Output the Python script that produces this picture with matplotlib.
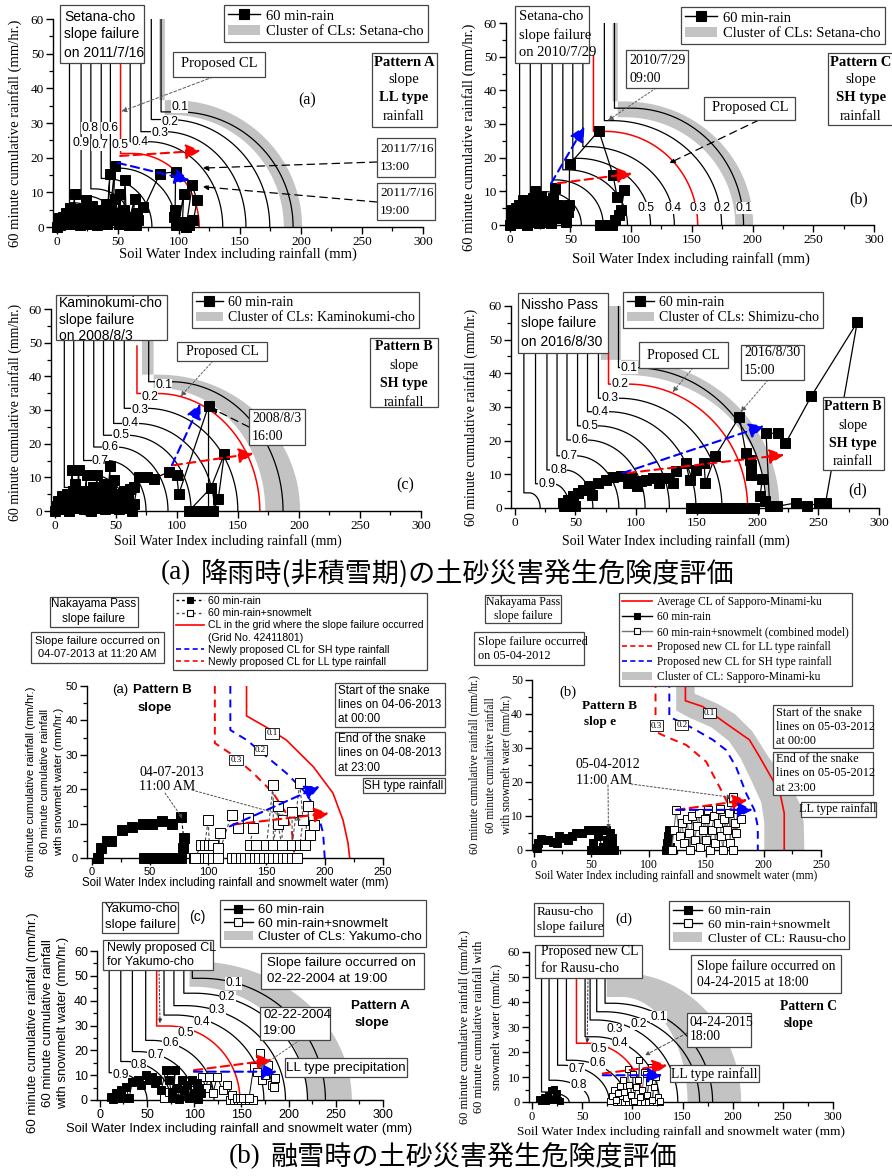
import numpy as np
import matplotlib
matplotlib.use('Agg')
import matplotlib.pyplot as plt
from matplotlib.lines import Line2D
from matplotlib.patches import Patch, Rectangle
from matplotlib.ticker import MultipleLocator

W, H = 892, 1176
SERIF = 'Liberation Serif'
SANS = 'Liberation Sans'
CJK = 'Noto Sans CJK JP'
BAND = '#c3c3c3'
BOXEC = '#454545'

# ============================ DATA ============================
# ---- Top (a): Setana-cho 2011/7/16 ----
TA_xv = [85.5, 77.5, 69.0, 60.2, 44.0, 36.5, 28.0, 20.0, 10.5]
TA_ytop = [60, 60, 60, 60, 60, 60, 60, 60, 60]
TA_yk = [33.2, 31.0, 27.5, 24.6, 17.0, 14.0, 11.0, 9.0, 7.0]
TA_xc = [100, 92, 88, 75, 50, 40, 31, 23, 13]
TA_xe = [193.6, 174.5, 155.0, 136.0, 98.0, 78.0, 62.0, 50.0, 38.0]
TA_lab = ['0.1', '0.2', '0.3', '0.4', '0.5', '0.6', '0.7', '0.8', '0.9']
TA_lx = [100.8, 92.6, 84.4, 68.0, 52.2, 43.4, 35.2, 27.0, 20.2]
TA_ly = [34.7, 30.4, 27.0, 24.6, 23.7, 28.5, 23.7, 28.5, 24.1]
TA_red = [52.3, 47.0, 21.2, 62.0, 116.7]          # xv, ytop, yknee, xc, xend
TA_band = [84, 88.6, 60, 36.6, 32.3, 95, 201, 186]  # xl, xr, ytop, yo, yi, xc, xeo, xei
TA_rain = [(0, 0), (1, 1), (2, 2.5), (3, 0.5), (4, 1.8), (5, 3), (6, 0.8), (7, 2), (8, 4), (9, 1),
           (10, 2.8), (11, 5.5), (12, 1.5), (13, 3.5), (15, 9.6), (14, 4.5), (16, 1), (17, 3),
           (18, 5.2), (19, 0.5), (20, 2.5), (22, 4), (24, 7.9), (23, 2), (25, 5), (26, 1), (28, 3),
           (29, 6), (30, 1.5), (32, 4), (33, 0.5), (34, 2.5), (36, 5), (37, 1), (38, 3), (40, 6.5),
           (41, 1), (43.6, 15.4), (42, 3), (44, 5), (47.7, 17.6), (46, 2), (48, 8), (50, 4),
           (52, 9.6), (51, 1), (55, 5), (56, 13.5), (57, 2), (59, 0.5), (60, 3), (64, 8.2), (62, 1),
           (66, 3.9), (71, 5.8), (67, 2), (65, 0.5), (84.5, 15.4), (97.4, 15.9), (97, 4.8),
           (96, 2.9), (98, 0.5), (100, 1), (104, 9.6), (103, 1.4), (106, 0), (111, 12),
           (115, 7.7), (112, 1.9), (108, 0.5), (106, 0)]
TA_arrow_red = [(52, 20.5), (118, 22)]
TA_arrow_blue = [(50, 18.5), (109, 13.5)]

# ---- Top (b): Setana-cho 2010/7/29 ----
TB_xv = [86.3, 78.0, 60.3, 52.0, 43.8, 35.0, 26.0, 17.0, 8.2]
TB_ytop = [60, 60, 60, 60, 60, 60, 60, 60, 60]
TB_yk = [34.7, 31.0, 23.3, 19.8, 16.4, 13.4, 9.9, 7.4, 4.5]
TB_xc = [100, 84, 64, 56, 47, 38, 29, 20, 10]
TB_xe = [192.6, 174.5, 135.6, 116.0, 97.0, 77.0, 59.0, 45.0, 30.0]
TB_lab = ['0.5', '0.4', '0.3', '0.2', '0.1']
TB_lx = [112.3, 134.2, 154.8, 174.8, 193.2]
TB_ly = [5, 5, 5, 5, 5]
TB_red = [69.0, 50.3, 27.8, 79.0, 154.8]
TB_band = [84.8, 89, 60, 36.7, 32, 95, 200.5, 185.7]
TB_rain = [(0, 0), (1, 2), (2, 4.5), (3, 1), (4, 3), (5, 5), (6, 0.5), (7, 2.5), (8, 6), (9, 1.5),
           (10, 4), (11, 7.5), (12, 2), (13, 5), (14, 0), (15, 3.5), (16, 6.5), (17, 1), (18, 4),
           (19, 8), (20.5, 10.2), (21, 5), (22, 2), (23, 7), (24, 0.5), (25, 4), (26, 8.5), (27, 3),
           (28, 6), (29, 1), (30, 4.5), (31, 7), (32, 2.5), (33, 5.5), (34, 0.5), (35, 3.5), (36, 8),
           (37, 10.9), (38, 5), (39, 2), (40, 6), (42, 3), (44, 5.5), (46, 1), (48, 4), (49, 6),
           (49.3, 18), (73.4, 28), (85, 15), (88.5, 8.4), (94.5, 10.5), (91.8, 4.5), (90.4, 3),
           (87, 1.5), (84, 0), (80, 0), (77, 0), (74, 0)]
TB_arrow_red = [(39.7, 12.4), (101, 15.3)]
TB_arrow_blue = [(34.2, 12.4), (61.6, 29.3)]

# ---- Top (c): Kaminokumi-cho 2008/8/3 ----
TC_xv = [77.0, 57.0, 48.3, 40.0, 32.0, 23.7, 15.6, 7.9]
TC_ytop = [60, 60, 60, 60, 60, 60, 60, 60]
TC_yk = [38.4, 30.5, 26.0, 22.5, 19.0, 15.0, 11.0, 7.0]
TC_xc = [95, 75, 67, 59, 50, 42, 27, 16]
TC_xe = [187.0, 150.0, 130.8, 111.7, 92.8, 74.8, 59.0, 42.0]
TC_lab = ['0.1', '0.2', '0.3', '0.4', '0.5', '0.6', '0.7']
TC_lx = [89.3, 77.8, 69.6, 62.0, 54.3, 45.6, 37.4]
TC_ly = [37.4, 33.8, 30.0, 26.2, 22.5, 19.0, 15.0]
TC_red = [67.4, 49.0, 34.9, 84.0, 168.0]
TC_band = [71.5, 81, 60, 40.5, 36.5, 85, 201, 172.5]
TC_rain = [(0, 0), (1, 1.5), (2, 0.5), (3, 3), (4, 1), (5, 2), (6, 4.5), (7, 0.5), (8, 3), (9, 1.5),
           (10, 5), (11, 2.5), (12, 0), (13, 3.5), (14.2, 12.1), (15, 6), (16, 1), (17, 8), (18, 3),
           (19.7, 12.1), (20, 5), (21, 1), (23, 4), (24, 0.5), (26.5, 10.8), (25, 6), (27, 2),
           (29, 4), (30, 0), (31, 7), (33, 3), (34.7, 10.6), (35, 1), (37, 5), (38, 2), (40, 8),
           (41, 0.5), (43, 4), (45.6, 13.5), (44, 2), (46, 6), (48.3, 9.1), (47, 1), (50, 3),
           (52, 5), (53, 0.5), (55, 2), (57, 6), (58, 1), (60, 3.5), (62, 6.5), (64.7, 7.1),
           (63, 0), (65, 2), (68.8, 10.1), (75.6, 10.1), (81, 9.6), (93.4, 11.6), (100, 10.6),
           (101.6, 5), (126, 31.2), (126, 0), (122, 0), (118, 0), (114, 0), (110, 0), (128, 6.9),
           (139, 17), (134, 3.7), (130, 0)]
TC_arrow_red = [(97.5, 13.6), (163, 17.1)]
TC_arrow_blue = [(96, 13.6), (119.3, 31.9)]

# ---- Top (d): Nissho Pass 2016/8/30 ----
TD_xv = [85.5, 69.0, 60.0, 51.8, 43.1, 34.9, 26.6, 17.2, 7.6]
TD_ytop = [60, 60, 60, 60, 60, 60, 60, 60, 60]
TD_yk = [41.7, 32.6, 28.6, 24.4, 20.2, 15.5, 11.3, 7.2, 4.5]
TD_xc = [98, 86, 77, 68, 59, 50, 41, 31, 12]
TD_xe = [207.0, 170.7, 149.3, 127.4, 107.4, 85.8, 64.4, 45.0, 21.0]
TD_lab = ['0.1', '0.2', '0.3', '0.4', '0.5', '0.6', '0.7', '0.8', '0.9']
TD_lx = [94.0, 86.9, 78.7, 70.5, 61.7, 53.5, 44.5, 36.2, 26.6]
TD_ly = [41.7, 36.8, 32.6, 28.6, 24.4, 20.2, 15.5, 11.3, 7.2]
TD_red = [77.3, 46.0, 36.8, 93.0, 191.8]
TD_band = [71, 87.5, 60, 44, 39.5, 92, 218, 208]
TD_rain = [(41, 0.5), (40, 1.5), (43.8, 2.5), (45, 0.5), (48, 3.5), (47, 1), (52, 4.4), (50, 0.5),
           (56, 5.4), (61.6, 6.4), (64, 4), (68.5, 7.4), (75, 8.4), (80.8, 9.2), (87.7, 9.4),
           (93, 7.4), (96, 9), (101, 6.4), (104, 8), (108, 8.4), (113.7, 8.9), (119, 7.4),
           (122, 9), (126, 8.9), (130, 7.4), (133, 10.9), (141, 13.3), (144, 8.4), (149, 11.4),
           (156, 13.3), (157, 7.4), (165, 15.3), (185, 27.1), (190.4, 16.3), (193.7, 14.3),
           (195, 12.8), (195, 9.9), (204, 8.6), (202, 3.5), (206, 2), (210, 0.5), (207, 22.2),
           (217, 22.2), (223, 19.2), (244.4, 33.3), (282, 55.1), (256, 1.5), (250.7, 1.5),
           (241, 0.5), (231.5, 1.5), (216, 0.5)]
TD_rain0 = [(145, 0), (149, 0), (153, 0), (157, 0), (161, 0), (165, 0), (169, 0), (173, 0),
            (177, 0), (181, 0), (185, 0), (189, 0), (193, 0), (197, 0)]
TD_arrow_red = [(93, 10.4), (222, 15.8)]
TD_arrow_blue = [(89, 10.4), (205.5, 24.4)]

# ---- Bottom (a): Nakayama Pass 2013 ----
BA_red = [(132.9, 50), (132.9, 41.3), (150, 38), (167, 34.3), (190, 26.6), (207, 18.9),
          (215.7, 11), (220, 4.3), (221.4, 0)]
BA_blue = [(119, 50), (119, 37.2), (133, 34.3), (150, 29.5), (167, 24.7), (184, 18.9),
           (194, 13), (198.6, 7.3), (200, 0)]
BA_reddash = [(105.7, 50), (105.7, 33.4), (118.6, 30.5), (138.6, 24.7), (155.7, 18.9),
              (167, 13), (172, 7.3), (174.3, 0)]
BA_lab = ['0.1', '0.2', '0.3']
BA_lx = [154.9, 144.6, 123.7]
BA_ly = [36.2, 31.4, 28.5]
BA_rain = [(5.7, 0), (8, 2.9), (12.9, 4.8), (17, 4.8), (25.7, 8), (34.3, 9), (44.3, 10), (52, 10),
           (60.6, 10.9), (68.6, 10), (77, 11.9), (79, 5.8), (78, 2.9), (77, 0), (73, 0), (69, 0),
           (65, 0), (61, 0), (57, 0), (53, 0), (49, 0), (45, 0)]
BA_snow = [(88.6, 0), (94, 3.7), (97, 3.7), (100, 11), (101, 3.7), (104, 3.7), (108.6, 2.9),
           (110, 7.2), (108, 0), (120, 12.6), (125.7, 8.7), (134, 11.6), (138.6, 8.7),
           (135.7, 3.7), (141, 3.7), (150, 3.7), (155.7, 21.3), (156, 3.7), (160, 15), (160, 10),
           (163, 3.7), (164, 11), (172, 13.5), (172, 3.7), (178.6, 21.8), (181.4, 11),
           (178.6, 3.7), (182.9, 3.7), (185.7, 15), (187, 6.8), (191, 9.7)]
BA_snow0 = [(88, 0), (92, 0), (96, 0), (100, 0), (104, 0), (108, 0), (120, 0), (124, 0), (128, 0),
            (132, 0), (136, 0), (140, 0), (144, 0), (148, 0), (152, 0), (156, 0), (160, 0),
            (164, 0), (168, 0), (172, 0), (176, 0)]
BA_arrow_red = [(121, 9.7), (203.7, 13)]
BA_arrow_blue = [(118.6, 9.2), (195.7, 20.8)]

# ---- Bottom (b): Nakayama Pass 2012 ----
BB_red = [(132, 50), (132, 43.9), (147, 42.2), (167, 37.3), (187.7, 32.4), (196.4, 27.5),
          (208, 20.6), (215, 15.7), (218, 10.8), (218, 0)]
BB_blue = [(118, 50), (118, 39.2), (138.5, 35.8), (155.9, 32.4), (167.4, 29.4), (176, 24.5),
           (184.8, 16.7), (192, 11.8), (195, 6.9), (195, 0)]
BB_reddash = [(106, 50), (106, 34.8), (115.3, 33.3), (132.7, 30.9), (150, 26), (161.6, 18.6),
              (167.4, 14.7), (173.2, 10.8), (174.7, 0)]
BB_band_in = [(124, 50), (124, 41), (135, 39), (155, 36), (170, 32), (180, 27), (190, 20),
              (198, 14), (200.7, 8), (200.7, 0)]
BB_band_out = [(140, 50), (140, 46), (160, 43), (175, 40), (190, 35), (205, 27), (222, 20),
               (231, 14), (235, 8), (235.5, 0)]
BB_lab = ['0.1', '0.2', '0.3']
BB_lx = [153, 128.9, 106.6]
BB_ly = [40.4, 36.8, 36.6]
BB_rain = [(2.5, 0.5), (4, 2), (6, 3.1), (9, 3), (12, 3), (16.8, 2.5), (20, 2), (22, 4), (26, 3.5),
           (30, 3), (33, 4), (37, 5), (42, 5), (47, 6), (52, 6), (58, 6), (63, 6), (66, 5), (64, 3),
           (62, 1), (58, 0), (54, 0), (50, 0), (52, 2), (56, 4), (60, 1), (65, 0), (68, 2), (70, 0),
           (68, 3.5)]
BB_rain2 = [(115.3, 0), (116, 2), (117, 4), (118, 6), (116.5, 3), (119, 1)]
BB_snow = [(120, 0), (122, 5.9), (124, 11.8), (127, 4), (129, 8), (131, 2), (133, 9), (135, 5),
           (136, 0), (138, 10), (140, 3), (142, 7), (144, 11), (145, 1), (147, 6), (149, 9),
           (150, 3), (152, 11.8), (153, 0), (155, 6), (157, 10), (158, 2), (160, 8), (162, 12),
           (163, 4), (165, 0), (166, 9), (168, 6), (170, 11), (171, 2), (172, 14), (173, 15.5),
           (175, 8), (173, 0), (178, 12), (176, 5), (180, 9)]
BB_arrow_red = [(124, 11.8), (186, 14.7)]
BB_arrow_blue = [(124, 11.8), (190.6, 11.8)]

# ---- Bottom (c): Yakumo-cho 2004 ----
BC_xv = [98.0, 89.0, 78.5, 68.0, 48.6, 34.5, 22.2, 9.9]
BC_ytop = [60, 60, 60, 60, 60, 60, 60, 60]
BC_yk = [49.0, 43.0, 38.0, 34.2, 24.0, 19.5, 15.5, 11.0]
BC_xc = [108, 100, 90, 80, 55, 40, 28, 15]
BC_xe = [239.0, 220.0, 196.7, 173.8, 121.0, 99.7, 75.0, 50.0]
BC_lab = ['0.1', '0.2', '0.3', '0.4', '0.5', '0.6', '0.7', '0.8', '0.9']
BC_lx = [141.9, 134.9, 124.3, 108.5, 90.8, 75.0, 59.2, 41.5, 22.2]
BC_ly = [47.0, 41.4, 36.2, 31.5, 26.9, 22.8, 18.1, 14.1, 10.1]
BC_red = [60.2, 52.3, 29.8, 72.0, 148.4]
BC_band = [89, 95, 60, 55.8, 45.6, 100, 267, 219.6]
BC_rain = [(11.6, 1.3), (14, 0.5), (17, 2.7), (20, 1), (22, 4), (25.7, 0.7), (27.5, 5.4),
           (31, 0.7), (34.5, 7.4), (40, 8), (44, 6), (48.6, 10), (52, 8), (55.7, 9.4), (58, 7),
           (61, 8), (65, 4), (70, 12), (73, 8), (76, 3), (80, 12), (78, 1), (82, 5), (84, 0.5),
           (87.4, 8), (89, 4), (92.7, 6), (94, 1), (98, 8), (100, 3), (103, 6.7), (104, 0.5),
           (106.8, 2.7), (105, 5)]
BC_snow = [(68, 0.7), (73.3, 3.4), (76, 1), (85, 2), (95, 4), (100, 2), (108.6, 9.4), (112, 5),
           (115.6, 9.4), (120, 3), (124.4, 9.4), (130, 4), (135, 6), (140, 2), (145, 0.7),
           (149, 0.7), (152, 0.7), (158, 0.7), (163, 13.4), (166.7, 11.4), (170, 18.8), (172, 8),
           (175.5, 10), (178, 14), (182.6, 6), (184.5, 5.4), (186, 9)]
BC_snow0 = [(138, 0), (142, 0), (146, 0), (150, 0), (154, 0), (158, 0), (162, 0)]
BC_arrow_red = [(99.7, 12), (182.6, 16.1)]
BC_arrow_blue = [(99.7, 11.4), (188, 11.4)]

# ---- Bottom (d): Rausu-cho 2015 ----
BD_xv = [72.8, 64.5, 57.9, 52.9, 34.3, 25.5, 17.0, 9.5]
BD_ytop = [60, 60, 60, 60, 60, 60, 60, 60]
BD_yk = [39.5, 36.1, 32.8, 26.1, 16.7, 14.7, 8.7, 4.0]
BD_xc = [80, 72, 64, 62, 40, 30, 22, 13]
BD_xe = [180.0, 167.0, 145.3, 127.0, 94.0, 77.0, 57.0, 37.0]
BD_lab = ['0.1', '0.2', '0.3', '0.4', '0.5', '0.6', '0.7', '0.8']
BD_lx = [126.0, 106.0, 82.8, 87.8, 66.8, 65.5, 44.6, 46.2]
BD_ly = [33.9, 31.2, 29.1, 23.5, 21.0, 15.4, 13.4, 6.7]
BD_red = [44.3, 49.6, 23.5, 55.0, 110.4]
BD_band = [74.5, 74.5, 39.5, 51.6, 42, 89.5, 208.5, 155]
BD_rain = [(7.3, 1.3), (9, 0.5), (12.3, 2), (14, 0.5), (16, 3), (19, 4.7), (20, 1), (22.3, 5.4),
           (24, 2.5), (26, 1), (28, 0.5), (25, 3.5)]
BD_snow = [(78, 0.5), (80, 2.5), (82, 5), (84, 1), (86, 3.5), (88, 6.5), (90.5, 8.7), (92, 4),
           (94, 1.5), (95.4, 13.4), (97, 7), (99, 3), (100.4, 11.4), (102, 0.5), (104, 6), (106, 9),
           (107, 16.7), (108, 2), (110, 5), (112, 12), (113.7, 11.4), (115, 3), (117, 8), (119, 14),
           (120, 1), (122, 6), (124, 10), (126, 2), (128, 0.5)]
BD_snow0 = [(84, 0), (88, 0), (92, 0), (96, 0), (100, 0), (104, 0), (108, 0), (112, 0), (116, 0),
            (120, 0), (124, 0), (128, 0)]
BD_arrow_red = [(70.5, 11.4), (135, 14.7)]
BD_arrow_blue = [(70.5, 10.7), (130, 10.7)]

# ============================ HELPERS ============================
fig = plt.figure(figsize=(W / 100, H / 100), dpi=100)


def F(x, y):
    return (x / W, 1 - y / H)


def make_ax(x0, x1, yt, yb, xmax, ymax, xstep, ystep, fam, fs, xmin=-3):
    ax = fig.add_axes([x0 / W, 1 - yb / H, (x1 - x0) / W, (yb - yt) / H])
    ax.set_xlim(xmin, xmax)
    ax.set_ylim(0, ymax)
    ax.patch.set_visible(False)
    for s in ('top', 'right'):
        ax.spines[s].set_visible(False)
    for s in ('left', 'bottom'):
        ax.spines[s].set_linewidth(1.0)
    ax.xaxis.set_major_locator(MultipleLocator(xstep))
    ax.xaxis.set_minor_locator(MultipleLocator(xstep / 2))
    ax.yaxis.set_major_locator(MultipleLocator(ystep))
    ax.yaxis.set_minor_locator(MultipleLocator(ystep / 2))
    ax.tick_params(which='major', direction='out', length=5, width=1, labelsize=fs, pad=1.5,
                   labelfontfamily=fam)
    ax.tick_params(which='minor', direction='out', length=3, width=0.9)
    return ax


def plot_cls(ax, xv, ytop, yk, xc, xe, color='k', lw=0.9, z=2):
    t = np.linspace(0.0, np.pi / 2, 90)
    for a, b, c, d, e in zip(xv, ytop, yk, xc, xe):
        xs = np.r_[a, a, d + (e - d) * np.sin(t)]
        ys = np.r_[b, c, c * np.cos(t)]
        ax.plot(xs, ys, color=color, lw=lw, zorder=z)


def plot_red(ax, r):
    plot_cls(ax, [r[0]], [r[1]], [r[2]], [r[3]], [r[4]], color='red', lw=1.1, z=2.5)


def plot_band(ax, b):
    xl, xr, ytop, yo, yi, xc, xeo, xei = b
    t = np.linspace(0.0, np.pi / 2, 90)
    ox = xc + (xeo - xc) * np.sin(t)
    oy = yo * np.cos(t)
    ix = (xc + (xei - xc) * np.sin(t))[::-1]
    iy = (yi * np.cos(t))[::-1]
    xs = np.r_[xl, xl, ox, ix, xr, xr]
    ys = np.r_[ytop, yo, oy, iy, yi, ytop]
    ax.fill(xs, ys, color=BAND, lw=0, zorder=1)


def cl_labels(ax, labs, lx, ly, fs=8.7, fam=SANS, boxed=False):
    for s, x, y in zip(labs, lx, ly):
        if boxed:
            bb = dict(boxstyle='square,pad=0.12', fc='white', ec='k', lw=0.6)
        else:
            bb = dict(boxstyle='square,pad=0.02', fc='white', ec='none')
        ax.text(x, y, s, ha='center', va='center', fontsize=fs, family=fam, zorder=3, bbox=bb)


def snake(ax, pts, filled=True, ls='-', lcolor='k', ms=7, lw=0.9, z=4):
    xs = [p[0] for p in pts]
    ys = [p[1] for p in pts]
    ax.plot(xs, ys, ls=ls, color=lcolor, lw=lw, marker='s', ms=ms,
            mfc='k' if filled else 'white', mec='k', mew=0.7, zorder=z, clip_on=False)


def polyline(ax, pts, color, ls='-', lw=1.2, z=2):
    ax.plot([p[0] for p in pts], [p[1] for p in pts], color=color, ls=ls, lw=lw, zorder=z)


def dash_arrow(ax, pts, color, ms=15, lw=1.5):
    ax.annotate('', xy=pts[1], xytext=pts[0],
                arrowprops=dict(arrowstyle='-|>,head_length=0.6,head_width=0.3', color=color,
                                lw=lw, ls=(0, (4, 2.5)), shrinkA=0, shrinkB=0,
                                mutation_scale=ms), zorder=5)


def leader(ax, px, py, xy, ls=(0, (4, 3)), lw=0.8, color='k', head=True, ms=8):
    ax.annotate('', xy=xy, xycoords='data', xytext=F(px, py), textcoords='figure fraction',
                arrowprops=dict(arrowstyle='-|>' if head else '-', color=color, lw=lw, ls=ls,
                                shrinkA=0, shrinkB=0, mutation_scale=ms), zorder=6)


def fbox(x0, y0, x1, y1, lw=0.9):
    fig.add_artist(Rectangle(F(x0, y1), (x1 - x0) / W, (y1 - y0) / H, transform=fig.transFigure,
                             fc='white', ec=BOXEC, lw=lw, zorder=7))


def ftext(x, y, s, fs, fam, ha='center', va='center', weight='normal', rot=0):
    fig.text(x / W, 1 - y / H, s, fontsize=fs, family=fam, ha=ha, va=va, weight=weight,
             rotation=rot, zorder=8)


def flegend(handles, labels, x0, y0, fs, fam, hl=2.2, ls=0.15):
    leg = fig.legend(handles, labels, loc='upper left', bbox_to_anchor=F(x0, y0),
                     bbox_transform=fig.transFigure, frameon=True, fancybox=False,
                     edgecolor=BOXEC, framealpha=1, prop={'family': fam, 'size': fs},
                     handlelength=hl, handletextpad=0.4, borderpad=0.3, labelspacing=ls,
                     borderaxespad=0)
    leg.get_frame().set_linewidth(0.9)
    leg.set_zorder(7)
    return leg


def rain_handle(ms=7, filled=True, ls='-', color='k'):
    return Line2D([0], [0], color=color, lw=1, ls=ls, marker='s', ms=ms,
                  mfc='k' if filled else 'white', mec='k', mew=0.8)


def gray_handle():
    return Patch(fc=BAND, ec='none')


# ============================ TOP (a) ============================
ax = make_ax(53, 423, 19, 227, 300, 60, 50, 10, SERIF, 9.5)
plot_band(ax, TA_band)
plot_cls(ax, TA_xv, TA_ytop, TA_yk, TA_xc, TA_xe)
plot_red(ax, TA_red)
cl_labels(ax, TA_lab, TA_lx, TA_ly)
snake(ax, TA_rain)
dash_arrow(ax, TA_arrow_red, 'red')
dash_arrow(ax, TA_arrow_blue, 'blue')
leader(ax, 213, 77, (53, 33.3), ls=(0, (3, 2)), color='0.35', lw=0.7)
leader(ax, 377, 162, (119.7, 17), ls=(0, (6, 4)), lw=0.9)
leader(ax, 377, 202, (119.7, 11.6), ls=(0, (6, 4)), lw=0.9)
fbox(60, 5, 144, 63)
ftext(64, 17, 'Setana-cho', 10, SANS, ha='left')
ftext(64, 34, 'slope failure', 10, SANS, ha='left')
ftext(64, 53, 'on 2011/7/16', 10, SANS, ha='left')
fbox(173, 52, 265, 77)
ftext(219, 64, 'Proposed CL', 10.5, SERIF)
ftext(307, 100, '(a)', 11.5, SERIF)
fbox(372, 53, 437, 127)
ftext(404, 62, 'Pattern A', 10.5, SERIF, weight='bold')
ftext(404, 80, 'slope', 10.5, SERIF)
ftext(404, 98, 'LL type', 10.5, SERIF, weight='bold')
ftext(404, 116, 'rainfall', 10.5, SERIF)
fbox(377, 138, 435, 177)
ftext(380, 149, '2011/7/16', 9.5, SERIF, ha='left')
ftext(380, 167, '13:00', 9.5, SERIF, ha='left')
fbox(377, 183, 435, 220)
ftext(380, 193, '2011/7/16', 9.5, SERIF, ha='left')
ftext(380, 211, '19:00', 9.5, SERIF, ha='left')
flegend([rain_handle(), gray_handle()], ['60 min-rain', 'Cluster of CLs: Setana-cho'],
        224, 5, 10.5, SERIF)
ftext(238, 254, 'Soil Water Index including rainfall (mm)', 10.5, SERIF)
ftext(15, 133, '60 minute cumulative rainfall (mm/hr.)', 10.5, SERIF, rot=90)

# ============================ TOP (b) ============================
ax = make_ax(506, 874, 23, 225, 300, 60, 50, 10, SERIF, 9.5)
plot_band(ax, TB_band)
plot_cls(ax, TB_xv, TB_ytop, TB_yk, TB_xc, TB_xe)
plot_red(ax, TB_red)
cl_labels(ax, TB_lab, TB_lx, TB_ly)
snake(ax, TB_rain)
dash_arrow(ax, TB_arrow_red, 'red')
dash_arrow(ax, TB_arrow_blue, 'blue')
leader(ax, 656, 88, (80.8, 31), ls=(0, (2, 2)), color='0.35', lw=0.7)
leader(ax, 759, 120, (131.5, 18.4), ls=(0, (6, 4)), lw=0.9)
fbox(515, 6, 589, 63)
ftext(519, 17, 'Setana-cho', 10.5, SERIF, ha='left')
ftext(519, 35, 'slope failure', 10.5, SERIF, ha='left')
ftext(519, 53, 'on 2010/7/29', 10.5, SERIF, ha='left')
fbox(626, 50, 688, 88)
ftext(629, 60, '2010/7/29', 10, SERIF, ha='left')
ftext(629, 78, '09:00', 10, SERIF, ha='left')
fbox(704, 97, 795, 120)
ftext(750, 108, 'Proposed CL', 10.5, SERIF)
fbox(828, 53, 893, 125)
ftext(861, 62, 'Pattern C', 10.5, SERIF, weight='bold')
ftext(861, 80, 'slope', 10.5, SERIF)
ftext(861, 98, 'SH type', 10.5, SERIF, weight='bold')
ftext(861, 116, 'rainfall', 10.5, SERIF)
ftext(859, 199, '(b)', 11.5, SERIF)
flegend([rain_handle(), gray_handle()], ['60 min-rain', 'Cluster of CLs: Setana-cho'],
        681, 7, 10.5, SERIF)
ftext(691, 259, 'Soil Water Index including rainfall (mm)', 10.5, SERIF)
ftext(469, 137, '60 minute cumulative rainfall (mm/hr.)', 10.5, SERIF, rot=90)

# ============================ TOP (c) ============================
ax = make_ax(51, 421, 309, 511, 300, 60, 50, 10, SERIF, 9.5)
plot_band(ax, TC_band)
plot_cls(ax, TC_xv, TC_ytop, TC_yk, TC_xc, TC_xe)
plot_red(ax, TC_red)
cl_labels(ax, TC_lab, TC_lx, TC_ly)
snake(ax, TC_rain)
dash_arrow(ax, TC_arrow_red, 'red')
dash_arrow(ax, TC_arrow_blue, 'blue')
leader(ax, 213, 361, (103, 34), ls=(0, (2, 2)), color='0.35', lw=0.7)
leader(ax, 249, 427, (128.5, 30.5), ls=(0, (6, 4)), lw=0.9)
fbox(56, 295, 167, 340)
ftext(59, 303, 'Kaminokumi-cho', 10, SANS, ha='left')
ftext(59, 320, 'slope failure', 10, SANS, ha='left')
ftext(59, 336, 'on 2008/8/3', 10, SANS, ha='left')
fbox(177, 342, 267, 361)
ftext(222, 351, 'Proposed CL', 10, SERIF)
fbox(249, 409, 305, 445)
ftext(252, 418, '2008/8/3', 10, SERIF, ha='left')
ftext(252, 437, '16:00', 10, SERIF, ha='left')
fbox(370, 338, 438, 407)
ftext(404, 347, 'Pattern B', 10, SERIF, weight='bold')
ftext(404, 365, 'slope', 10, SERIF)
ftext(404, 384, 'SH type', 10, SERIF, weight='bold')
ftext(404, 402, 'rainfall', 10, SERIF)
ftext(405, 485, '(c)', 11.5, SERIF)
flegend([rain_handle(), gray_handle()], ['60 min-rain', 'Cluster of CLs: Kaminokumi-cho'],
        192, 292, 10, SERIF, hl=1.9)
ftext(228, 541, 'Soil Water Index including rainfall (mm)', 10, SERIF)
ftext(15, 412, '60 minute cumulative rainfall (mm/hr.)', 10, SERIF, rot=90)

# ============================ TOP (d) ============================
ax = make_ax(511, 879, 306, 508, 300, 60, 50, 10, SERIF, 9.5)
plot_band(ax, TD_band)
plot_cls(ax, TD_xv, TD_ytop, TD_yk, TD_xc, TD_xe)
plot_red(ax, TD_red)
cl_labels(ax, TD_lab, TD_lx, TD_ly)
snake(ax, TD_rain)
snake(ax, TD_rain0)
dash_arrow(ax, TD_arrow_red, 'red')
dash_arrow(ax, TD_arrow_blue, 'blue')
leader(ax, 693, 368, (130, 34.4), ls=(0, (2, 2)), color='0.35', lw=0.7)
leader(ax, 768, 380, (186, 28.5), ls=(0, (2, 2)), color='0.35', lw=0.7)
fbox(518, 293, 608, 353)
ftext(521, 305, 'Nissho Pass', 10, SANS, ha='left')
ftext(521, 323, 'slope failure', 10, SANS, ha='left')
ftext(521, 342, 'on 2016/8/30', 10, SANS, ha='left')
fbox(639, 342, 728, 368)
ftext(683, 355, 'Proposed CL', 10, SERIF)
fbox(741, 345, 804, 380)
ftext(744, 353, '2016/8/30', 10, SERIF, ha='left')
ftext(744, 370, '15:00', 10, SERIF, ha='left')
fbox(823, 397, 884, 470)
ftext(853, 407, 'Pattern B', 10, SERIF, weight='bold')
ftext(853, 426, 'slope', 10, SERIF)
ftext(853, 444, 'SH type', 10, SERIF, weight='bold')
ftext(853, 462, 'rainfall', 10, SERIF)
ftext(858, 490, '(d)', 11.5, SERIF)
flegend([rain_handle(), gray_handle()], ['60 min-rain', 'Cluster of CLs: Shimizu-cho'],
        623, 292, 10, SERIF, hl=1.9)
ftext(676, 541, 'Soil Water Index including rainfall (mm)', 10, SERIF)
ftext(471, 417, '60 minute cumulative rainfall (mm/hr.)', 10, SERIF, rot=90)

# caption (a)
ftext(176, 573, '(a)', 19.5, SERIF)
ftext(201, 573, '降雨時(非積雪期)の土砂災害発生危険度評価', 19.5, CJK, ha='left')

# ============================ BOTTOM (a) ============================
ax = make_ax(87, 383, 686, 858, 250, 50, 50, 10, SANS, 8, xmin=-4)
polyline(ax, BA_red, 'red', lw=1.2)
polyline(ax, BA_blue, 'blue', ls=(0, (4, 3)), lw=1.4)
polyline(ax, BA_reddash, 'red', ls=(0, (4, 3)), lw=1.4)
cl_labels(ax, BA_lab, BA_lx, BA_ly, fs=6.5, fam=SERIF, boxed=True)
snake(ax, BA_rain, ls=(0, (3, 2)), ms=6.5, lw=0.8)
snake(ax, BA_snow0, filled=False, ls=(0, (3, 2)), lcolor='0.3', ms=6.5, lw=0.8)
snake(ax, BA_snow, filled=False, ls=(0, (3, 2)), lcolor='0.3', ms=6.5, lw=0.8)
dash_arrow(ax, BA_arrow_red, 'red')
dash_arrow(ax, BA_arrow_blue, 'blue')
leader(ax, 165, 793, (78, 11.5), ls=(0, (2, 2)), color='0.3', lw=0.7, ms=6)
leader(ax, 192, 790, (180, 11.0), ls=(0, (2, 2)), color='0.3', lw=0.7, ms=6)
ftext(139, 772, '04-07-2013', 10, SERIF, ha='left')
ftext(139, 787, '11:00 AM', 10, SERIF, ha='left')
ftext(112, 690, '(a)', 9.5, SANS, ha='left')
ftext(133, 690, 'Pattern B', 9.5, SANS, ha='left', weight='bold')
ftext(155, 708, 'slope', 9.5, SANS, weight='bold')
fbox(50, 597, 138, 627)
ftext(94, 604, 'Nakayama Pass', 8.4, SANS)
ftext(94, 619, 'slope failure', 8.4, SANS)
fbox(31, 632, 164, 663)
ftext(97, 641, 'Slope failure occurred on', 8, SANS)
ftext(97, 654, '04-07-2013 at 11:20 AM', 8, SANS)
flegend([rain_handle(5, True, (0, (2, 2))), rain_handle(5, False, (0, (2, 2)), '0.3'),
         Line2D([0], [0], color='red', lw=1.2), Line2D([0], [0], color='none'),
         Line2D([0], [0], color='blue', lw=1.2, ls=(0, (3, 2))),
         Line2D([0], [0], color='red', lw=1.2, ls=(0, (3, 2)))],
        ['60 min-rain', '60 min-rain+snowmelt', 'CL in the grid where the slope failure occurred',
         '(Grid No. 42411801)', 'Newly proposed CL for SH type rainfall',
         'Newly proposed CL for LL type rainfall'],
        173, 593, 7.6, SANS, hl=2.6, ls=0.2)
fbox(335, 683, 445, 727)
ftext(338, 691, 'Start of the snake', 8.4, SANS, ha='left')
ftext(338, 705, 'lines on 04-06-2013', 8.4, SANS, ha='left')
ftext(338, 719, 'at 00:00', 8.4, SANS, ha='left')
fbox(335, 732, 445, 775)
ftext(338, 739, 'End of the snake', 8.4, SANS, ha='left')
ftext(338, 753, 'lines on 04-08-2013', 8.4, SANS, ha='left')
ftext(338, 768, 'at 23:00', 8.4, SANS, ha='left')
fbox(363, 778, 445, 793)
ftext(404, 786, 'SH type rainfall', 8.4, SANS)
ftext(235, 883, 'Soil Water Index including rainfall and snowmelt water (mm)', 8.3, SANS)
ftext(31, 782, '60 minute cumulative rainfall (mm/hr.)', 8.2, SANS, rot=90)
ftext(45.5, 782, '60 minute cumulative rainfall', 8.2, SANS, rot=90)
ftext(59.5, 782, 'with snowmelt water (mm/hr.)', 8.2, SANS, rot=90)

# ============================ BOTTOM (b) ============================
ax = make_ax(532, 821, 680, 850, 250, 50, 50, 10, SERIF, 8.5, xmin=-1.5)
bx = [p[0] for p in BB_band_in] + [p[0] for p in BB_band_out][::-1]
by = [p[1] for p in BB_band_in] + [p[1] for p in BB_band_out][::-1]
ax.fill(bx, by, color=BAND, lw=0, zorder=1)
polyline(ax, BB_red, 'red', lw=1.2)
polyline(ax, BB_blue, 'blue', ls=(0, (4, 3)), lw=1.4)
polyline(ax, BB_reddash, 'red', ls=(0, (4, 3)), lw=1.4)
cl_labels(ax, BB_lab, BB_lx, BB_ly, fs=6.5, fam=SERIF, boxed=True)
snake(ax, BB_rain, ms=5.5, lw=0.8)
snake(ax, BB_rain2, ms=5.5, lw=0.8)
snake(ax, BB_snow, filled=False, lcolor='0.45', ms=5.5, lw=0.8)
dash_arrow(ax, BB_arrow_red, 'red')
dash_arrow(ax, BB_arrow_blue, 'blue')
leader(ax, 608, 785, (65, 6.2), ls=(0, (2, 2)), color='0.3', lw=0.7, ms=6)
leader(ax, 631, 784, (172, 15.5), ls=(0, (2, 2)), color='0.3', lw=0.7, ms=6)
ftext(576, 764, '05-04-2012', 10, SERIF, ha='left')
ftext(576, 780, '11:00 AM', 10, SERIF, ha='left')
ftext(568, 692, '(b)', 10.5, SERIF)
ftext(610, 706, 'Pattern B', 9.5, SERIF, weight='bold')
ftext(600, 722, 'slop e', 9.5, SERIF, weight='bold')
fbox(485, 595, 561, 623)
ftext(523, 602, 'Nakayama Pass', 8.5, SERIF)
ftext(523, 616, 'slope failure', 8.5, SERIF)
fbox(474, 632, 584, 665)
ftext(478, 642, 'Slope failure occurred', 8.8, SERIF, ha='left')
ftext(478, 656, 'on 05-04-2012', 8.8, SERIF, ha='left')
flegend([Line2D([0], [0], color='red', lw=1.2), rain_handle(5),
         rain_handle(5, False, '-', '0.45'),
         Line2D([0], [0], color='red', lw=1.2, ls=(0, (3, 2))),
         Line2D([0], [0], color='blue', lw=1.2, ls=(0, (3, 2))), gray_handle()],
        ['Average CL of Sapporo-Minami-ku', '60 min-rain', '60 min-rain+snowmelt (combined model)',
         'Proposed new CL for LL type rainfall', 'Proposed new CL for SH type rainfall',
         'Cluster of CL: Sapporo-Minami-ku'],
        619, 593, 8.3, SERIF, hl=2.6, ls=0.25)
fbox(773, 705, 873, 748)
ftext(776, 713, 'Start of the snake', 8.8, SERIF, ha='left')
ftext(776, 727, 'lines on 05-03-2012', 8.8, SERIF, ha='left')
ftext(776, 741, 'at 00:00', 8.8, SERIF, ha='left')
fbox(773, 752, 873, 795)
ftext(776, 759, 'End of the snake', 8.8, SERIF, ha='left')
ftext(776, 773, 'lines on 05-05-2012', 8.8, SERIF, ha='left')
ftext(776, 788, 'at 23:00', 8.8, SERIF, ha='left')
fbox(801, 802, 876, 817)
ftext(838, 809, 'LL type rainfall', 8.8, SERIF)
ftext(676, 876, 'Soil Water Index including rainfall and snowmelt water (mm)', 8.3, SERIF)
ftext(474, 765, '60 minute cumulative rainfall (mm/hr.)', 8.3, SERIF, rot=90)
ftext(491, 765, '60 minute cumulative rainfall', 8.3, SERIF, rot=90)
ftext(506, 765, 'with snowmelt water (mm/hr.)', 8.3, SERIF, rot=90)

# ============================ BOTTOM (c) ============================
ax = make_ax(97, 383, 951, 1100, 300, 60, 50, 10, SANS, 9)
plot_band(ax, BC_band)
plot_cls(ax, BC_xv, BC_ytop, BC_yk, BC_xc, BC_xe)
plot_red(ax, BC_red)
cl_labels(ax, BC_lab, BC_lx, BC_ly, fs=8.6)
snake(ax, BC_snow0, filled=False, ms=5.5, lw=0.7)
snake(ax, BC_snow, filled=False, ms=5.5, lw=0.7)
snake(ax, BC_rain, ms=5.5, lw=0.7)
dash_arrow(ax, BC_arrow_red, 'red')
dash_arrow(ax, BC_arrow_blue, 'blue')
leader(ax, 159, 970, (63.8, 30.9), ls=(0, (2, 2)), color='0.2', lw=0.7, ms=6)
leader(ax, 300, 1040, (168.5, 12.8), ls=(0, (2, 2)), color='0.4', lw=0.7, ms=6)
fbox(102, 902, 178, 933)
ftext(105, 909, 'Yakumo-cho', 9.5, SANS, ha='left')
ftext(105, 925, 'slope failure', 9.5, SANS, ha='left')
ftext(197, 917, '(c)', 10, SANS)
flegend([rain_handle(5.5), rain_handle(5.5, False), gray_handle()],
        ['60 min-rain', '60 min-rain+snowmelt', 'Cluster of CLs: Yakumo-cho'],
        220, 900, 9.5, SANS, hl=2.2, ls=0.1)
fbox(103, 940, 213, 970)
ftext(107, 948, 'Newly proposed CL', 9, SANS, ha='left')
ftext(107, 962, 'for Yakumo-cho', 9, SANS, ha='left')
fbox(261, 953, 424, 989)
ftext(267, 963, 'Slope failure occurred on', 9.6, SANS, ha='left')
ftext(267, 979, '02-22-2004 at 19:00', 9.6, SANS, ha='left')
fbox(260, 1007, 330, 1040)
ftext(263, 1015, '02-22-2004', 9.6, SANS, ha='left')
ftext(263, 1031, '19:00', 9.6, SANS, ha='left')
ftext(380, 1006, 'Pattern A', 9.6, SANS, weight='bold')
ftext(372, 1023, 'slope', 9.6, SANS, weight='bold')
fbox(285, 1058, 407, 1077)
ftext(346, 1068, 'LL type precipitation', 9.6, SANS)
ftext(239, 1129, 'Soil Water Index including rainfall and snowmelt water (mm)', 9.4, SANS)
ftext(33, 1023, '60 minute cumulative rainfall (mm/hr.)', 9.5, SANS, rot=90)
ftext(48, 1023, '60 minute cumulative rainfall', 9.5, SANS, rot=90)
ftext(63, 1023, 'with snowmelt water (mm/hr.)', 9.5, SANS, rot=90)

# ============================ BOTTOM (d) ============================
ax = make_ax(529, 833, 952, 1102, 300, 60, 50, 10, SERIF, 9)
plot_band(ax, BD_band)
plot_cls(ax, BD_xv, BD_ytop, BD_yk, BD_xc, BD_xe)
plot_red(ax, BD_red)
cl_labels(ax, BD_lab, BD_lx, BD_ly, fs=8.6)
snake(ax, BD_snow0, filled=False, ms=5, lw=0.6, lcolor='0.3')
snake(ax, BD_snow, filled=False, ms=5, lw=0.6, lcolor='0.3')
snake(ax, BD_rain, ms=5, lw=0.7)
dash_arrow(ax, BD_arrow_red, 'red')
dash_arrow(ax, BD_arrow_blue, 'blue')
leader(ax, 588, 978, (55, 23.5), ls=(0, (2, 2)), color='0.2', lw=0.7, ms=6)
leader(ax, 687, 1033, (112.7, 18.7), ls=(0, (3, 2)), color='0.3', lw=0.7, ms=6)
fbox(534, 903, 603, 936)
ftext(537, 912, 'Rausu-cho', 9.6, SERIF, ha='left')
ftext(537, 927, 'slope failure', 9.6, SERIF, ha='left')
ftext(624, 919, '(d)', 10.5, SERIF)
flegend([rain_handle(5.5), rain_handle(5.5, False), gray_handle()],
        ['60 min-rain', '60 min-rain+snowmelt', 'Cluster of CL: Rausu-cho'],
        669, 901, 9.6, SERIF, hl=2.2, ls=0.1)
fbox(535, 945, 642, 978)
ftext(541, 952, 'Proposed new CL', 9.8, SERIF, ha='left')
ftext(541, 968, 'for Rausu-cho', 9.8, SERIF, ha='left')
fbox(691, 955, 841, 993)
ftext(697, 966, 'Slope failure occurred on', 9.8, SERIF, ha='left')
ftext(697, 982, '04-24-2015 at 18:00', 9.8, SERIF, ha='left')
fbox(687, 1013, 751, 1047)
ftext(690, 1022, '04-24-2015', 9.8, SERIF, ha='left')
ftext(690, 1037, '18:00', 9.8, SERIF, ha='left')
ftext(809, 1007, 'Pattern C', 9.8, SERIF, weight='bold')
ftext(799, 1024, 'slope', 9.8, SERIF, weight='bold')
fbox(670, 1065, 759, 1082)
ftext(714, 1074, 'LL type rainfall', 9.8, SERIF)
ftext(681, 1132, 'Soil Water Index including rainfall and snowmelt water (mm)', 9.5, SERIF)
ftext(464, 1027, '60 minute cumulative rainfall (mm/hr.)', 8.9, SERIF, rot=90)
ftext(479, 1027, '60 minute cumulative rainfall with', 8.9, SERIF, rot=90)
ftext(496, 1027, 'snowmelt water (mm/hr.)', 8.9, SERIF, rot=90)

# caption (b)
ftext(245, 1157, '(b)', 19.5, SERIF)
ftext(270, 1157, '融雪時の土砂災害発生危険度評価', 19.5, CJK, ha='left')

fig.savefig('out.png', dpi=100)
